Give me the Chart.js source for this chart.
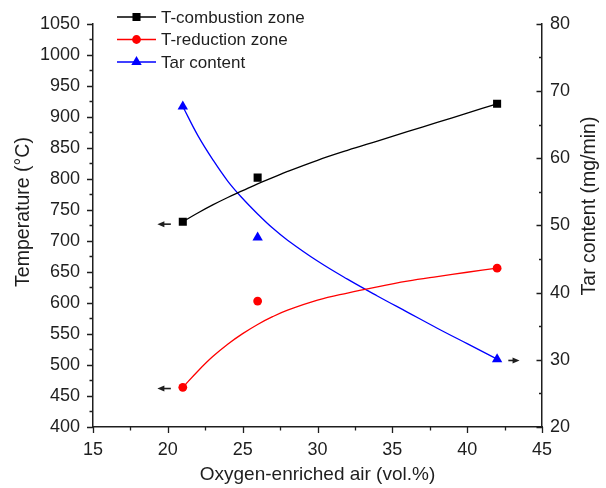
<!DOCTYPE html>
<html>
<head>
<meta charset="utf-8">
<script src="https://cdn.jsdelivr.net/npm/chart.js@4.4.1/dist/chart.umd.min.js"></script>
<style>
html,body{margin:0;padding:0;background:#fff}
canvas{display:block}
</style>
</head>
<body>
<canvas id="chart" width="606" height="488"></canvas>
<script>
// measured points
const airX      = [21, 26, 42];
const tComb     = [731, 802, 921];
const tRed      = [464, 603, 656];
const tarVal    = [67.7, 48.2, 30.1];

// fitted curves
const fitX      = [21, 22, 23, 24, 25, 26, 27, 28, 30, 32, 34, 36, 38, 40, 42];
const fitComb   = [731, 745, 758, 770, 781, 792, 802, 812, 830, 846, 861, 876, 891, 906, 921];
const fitRed    = [464, 490, 513.5, 533.5, 550.5, 565.3, 577.8, 588.3, 604.5, 616, 626, 635, 642.5, 649.5, 656];
const fitTar    = [67.7, 63.4, 59.8, 56.6, 54.0, 51.7, 49.6, 47.8, 44.7, 42.0, 39.5, 37.1, 34.7, 32.4, 30.1];

const names     = ["T-combustion zone", "T-reduction zone", "Tar content"];

// axis arrows (data units): tail x, head x, y, which axis
const arrowFrom = [20.2, 20.2, 42.75];
const arrowTo   = [19.3, 19.3, 43.5];
const arrowAt   = [727, 462, 29.9];
const arrowAxis = ["y", "y", "y2"];

const INK  = "#1e1e1e";
const FONT = "'Liberation Sans', Arial, sans-serif";
const COLS = ["#000000", "#ff0000", "#0000ff"];
const STYLES = ["rect", "circle", "triangle"];
const RADII = [5.7, 4.4, 6];

const pts = (xs, ys) => xs.map((x, i) => ({x, y: ys[i]}));

function marker(ctx, style, x, y, r, col){
    ctx.fillStyle = col;
    ctx.beginPath();
    if(style === "rect"){ const h = r*Math.SQRT1_2; ctx.rect(x-h, y-h, 2*h, 2*h); }
    else if(style === "circle"){ ctx.arc(x, y, r, 0, Math.PI*2); }
    else { ctx.moveTo(x, y-r); ctx.lineTo(x+r*0.866, y+r*0.5); ctx.lineTo(x-r*0.866, y+r*0.5); ctx.closePath(); }
    ctx.fill();
}

// ── ticks, titles, arrows, legend ───────────────────────────────────────────
const extras = {
    id: "extras",
    afterDraw(chart){
        const {ctx, chartArea: a, scales} = chart;
        const {x, y, y2} = scales;
        ctx.save();
        ctx.strokeStyle = INK;
        ctx.lineWidth = 1.3;
        ctx.beginPath();
        for(let v = 400; v <= 1050; v += 25){
            const p = Math.round(y.getPixelForValue(v)) + 0.5, l = v % 50 ? 3.5 : 6;
            ctx.moveTo(a.left, p); ctx.lineTo(a.left - l, p);
        }
        for(let v = 15; v <= 45; v += 2.5){
            const p = Math.round(x.getPixelForValue(v)) + 0.5, l = v % 5 ? 3.5 : 6;
            ctx.moveTo(p, a.bottom); ctx.lineTo(p, a.bottom + l);
        }
        for(let v = 20; v <= 80; v += 5){
            const p = Math.round(y2.getPixelForValue(v)) + 0.5, l = v % 10 ? 3 : 5.5;
            ctx.moveTo(a.right, p); ctx.lineTo(a.right - l, p);
        }
        ctx.stroke();

        // arrows
        ctx.fillStyle = INK;
        ctx.lineWidth = 1.6;
        arrowFrom.forEach((fx, i) => {
            const sc = scales[arrowAxis[i]];
            const py = sc.getPixelForValue(arrowAt[i]);
            const x0 = x.getPixelForValue(fx), x1 = x.getPixelForValue(arrowTo[i]);
            const d = Math.sign(x1 - x0);
            ctx.beginPath(); ctx.moveTo(x0, py); ctx.lineTo(x1 - d*5, py); ctx.stroke();
            ctx.beginPath(); ctx.moveTo(x1, py); ctx.lineTo(x1 - d*7, py - 3); ctx.lineTo(x1 - d*7, py + 3); ctx.closePath(); ctx.fill();
        });

        // axis titles
        ctx.fillStyle = INK;
        ctx.font = "19px " + FONT;
        ctx.textAlign = "center";
        ctx.textBaseline = "alphabetic";
        ctx.fillText("Oxygen-enriched air (vol.%)", (a.left + a.right) / 2, 480);
        ctx.font = "19.5px " + FONT;
        ctx.save(); ctx.translate(29, 212); ctx.rotate(-Math.PI/2);
        ctx.fillText("Temperature (\u00B0C)", 0, 0); ctx.restore();
        ctx.save(); ctx.translate(595, 206); ctx.rotate(-Math.PI/2);
        ctx.fillText("Tar content (mg/min)", 0, 0); ctx.restore();

        // legend
        ctx.font = "17px " + FONT;
        ctx.textAlign = "left";
        ctx.textBaseline = "middle";
        names.forEach((n, i) => {
            const ly = 17 + i * 22.5;
            ctx.strokeStyle = COLS[i]; ctx.lineWidth = 1.3;
            ctx.beginPath(); ctx.moveTo(117, ly); ctx.lineTo(156, ly); ctx.stroke();
            marker(ctx, STYLES[i], 136.5, ly, RADII[i], COLS[i]);
            ctx.fillStyle = INK;
            ctx.fillText(n, 161, ly + 1);
        });
        ctx.restore();
    }
};

const tickFont = {family: FONT, size: 18};
const noGrid = {display: false, drawTicks: false};
const border = {display: true, color: INK, width: 1.5};
const plain = v => String(v);

new Chart(document.getElementById("chart"), {
    type: "scatter",
    data: {datasets: [
        {data: pts(airX, tComb),  yAxisID: "y",  pointStyle: "rect",     pointRadius: 5.7, backgroundColor: COLS[0], borderWidth: 0},
        {data: pts(airX, tRed),   yAxisID: "y",  pointStyle: "circle",   pointRadius: 4.4, backgroundColor: COLS[1], borderWidth: 0},
        {data: pts(airX, tarVal), yAxisID: "y2", pointStyle: "triangle", pointRadius: 6,   backgroundColor: COLS[2], borderWidth: 0},
        {type: "line", data: pts(fitX, fitComb), yAxisID: "y",  borderColor: COLS[0], borderWidth: 1.3, pointRadius: 0, tension: 0.4, fill: false},
        {type: "line", data: pts(fitX, fitRed),  yAxisID: "y",  borderColor: COLS[1], borderWidth: 1.3, pointRadius: 0, tension: 0.4, fill: false},
        {type: "line", data: pts(fitX, fitTar),  yAxisID: "y2", borderColor: COLS[2], borderWidth: 1.3, pointRadius: 0, tension: 0.4, fill: false},
    ]},
    options: {
        responsive: false, animation: false, devicePixelRatio: 1,
        layout: {padding: {top: 15, left: 0, right: 0, bottom: 0}},
        plugins: {legend: {display: false}, tooltip: {enabled: false}},
        scales: {
            x: {type: "linear", position: "bottom", min: 15, max: 45,
                ticks: {stepSize: 5, padding: 12, color: INK, font: tickFont, callback: plain},
                grid: noGrid, border, afterFit: s => { s.height = 61; }},
            y: {type: "linear", position: "left", min: 400, max: 1050,
                ticks: {stepSize: 50, padding: 13, color: INK, font: tickFont, callback: plain},
                grid: noGrid, border, afterFit: s => { s.width = 93; }},
            y2: {type: "linear", position: "right", min: 20, max: 80,
                ticks: {stepSize: 10, padding: 8, color: INK, font: tickFont, callback: plain},
                grid: noGrid, border, afterFit: s => { s.width = 64; }},
        }
    },
    plugins: [extras]
});
</script>
</body>
</html>
